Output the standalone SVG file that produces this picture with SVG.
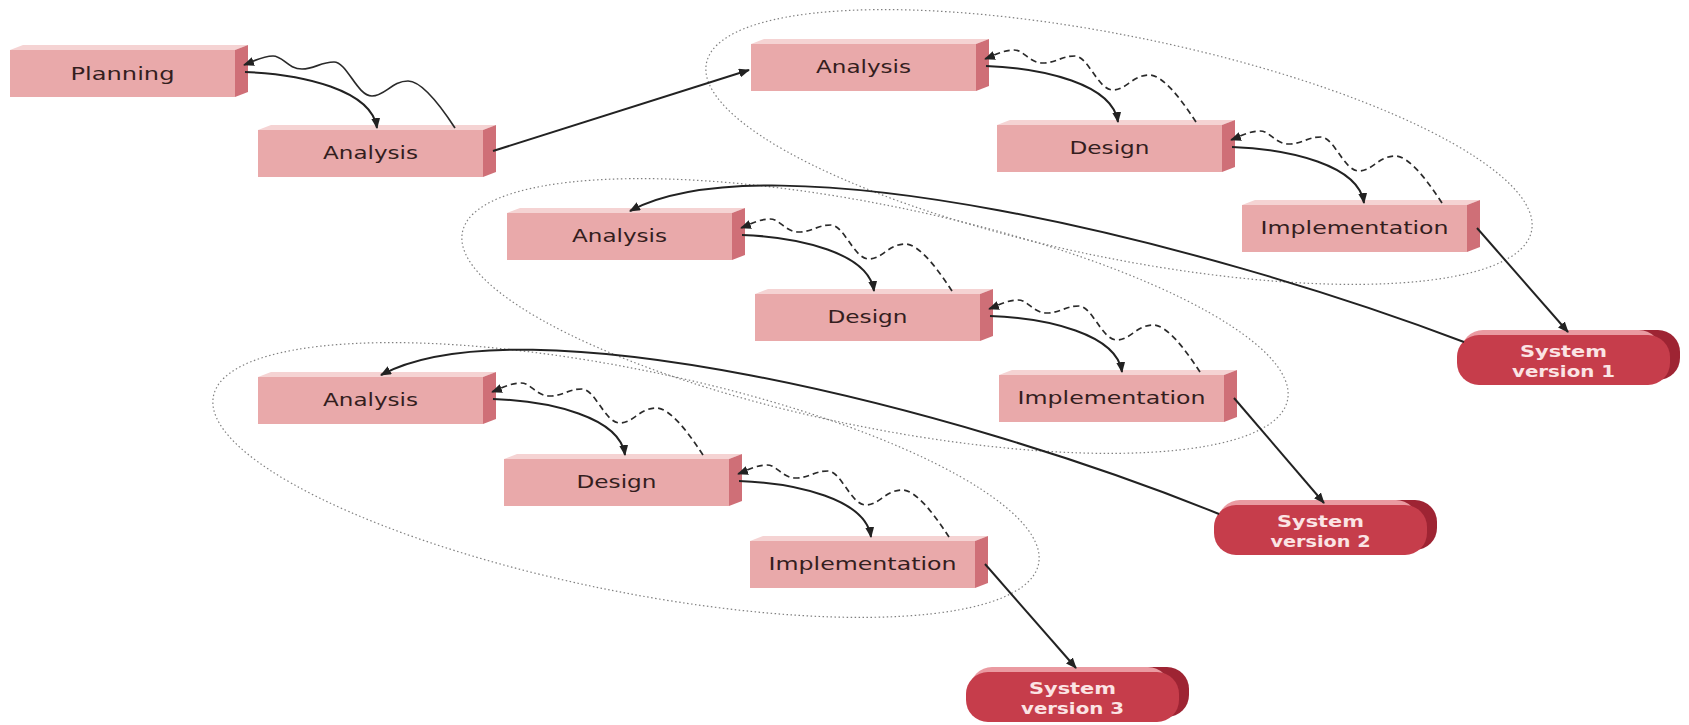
<svg xmlns="http://www.w3.org/2000/svg" width="1689" height="725" viewBox="0 0 1689 725">
<defs>
<style>
.front{fill:#e9a9aa}
.top{fill:#f5d3d3}
.side{fill:#cf6f77}
.lbl{font-family:"DejaVu Sans",sans-serif;font-size:17px;fill:#341e1e;text-anchor:middle}
.svf{fill:#c63d4b}
.svb{fill:#9e2433}
.svt{fill:#ea9aa1}
.svl{font-family:"DejaVu Sans",sans-serif;font-weight:bold;font-size:16px;fill:#fbe4e4;text-anchor:middle}
.conn{fill:none;stroke:#222;stroke-width:2;marker-end:url(#ah)}
.wave{fill:none;stroke:#2a2a2a;stroke-width:1.7;marker-end:url(#ah)}
.dash{stroke-dasharray:6 4}
.ell{fill:none;stroke:#808080;stroke-width:1.2;stroke-dasharray:1.5 2.5}
</style>
<marker id="ah" markerUnits="userSpaceOnUse" markerWidth="11" markerHeight="9" refX="10" refY="4.5" orient="auto" viewBox="0 0 11 9">
<path d="M0,0 L11,4.5 L0,9 z" fill="#222"/>
</marker>
<path id="wv" d="M445,78 C430,55 412,31 398,31 C382,31 375,46 362,46 C347,46 337,12 324,12 C310,12 305,19 292,19 C278,19 273,6 263,6 C252,6 242,12 234,15"/>
</defs>
<rect width="1689" height="725" fill="#ffffff"/>

<g id="iterations">
<ellipse class="ell" cx="0" cy="0" rx="421" ry="111" transform="translate(1119,147) rotate(11.5)"/>
<ellipse class="ell" cx="0" cy="0" rx="421" ry="111" transform="translate(875,316) rotate(11.5)"/>
<ellipse class="ell" cx="0" cy="0" rx="421" ry="111" transform="translate(626,480) rotate(11.5)"/>
</g>

<g id="planning" transform="translate(10,50)">
<polygon class="top" points="0,0 13,-5 238,-5 225,0"/><polygon class="side" points="225,0 238,-5 238,42 225,47"/><rect class="front" width="225" height="47"/>
<text class="lbl" x="112.5" y="30" textLength="104" lengthAdjust="spacingAndGlyphs">Planning</text>
</g>
<g id="analysis0" transform="translate(258,130)">
<polygon class="top" points="0,0 13,-5 238,-5 225,0"/><polygon class="side" points="225,0 238,-5 238,42 225,47"/><rect class="front" width="225" height="47"/>
<text class="lbl" x="112.5" y="29" textLength="95" lengthAdjust="spacingAndGlyphs">Analysis</text>
</g>
<g id="analysis1" transform="translate(751,44)">
<polygon class="top" points="0,0 13,-5 238,-5 225,0"/><polygon class="side" points="225,0 238,-5 238,42 225,47"/><rect class="front" width="225" height="47"/>
<text class="lbl" x="112.5" y="29" textLength="95" lengthAdjust="spacingAndGlyphs">Analysis</text>
</g>
<g id="design1" transform="translate(997,125)">
<polygon class="top" points="0,0 13,-5 238,-5 225,0"/><polygon class="side" points="225,0 238,-5 238,42 225,47"/><rect class="front" width="225" height="47"/>
<text class="lbl" x="112.5" y="29" textLength="80" lengthAdjust="spacingAndGlyphs">Design</text>
</g>
<g id="implementation1" transform="translate(1242,205)">
<polygon class="top" points="0,0 13,-5 238,-5 225,0"/><polygon class="side" points="225,0 238,-5 238,42 225,47"/><rect class="front" width="225" height="47"/>
<text class="lbl" x="112.5" y="29" textLength="188" lengthAdjust="spacingAndGlyphs">Implementation</text>
</g>
<g id="analysis2" transform="translate(507,213)">
<polygon class="top" points="0,0 13,-5 238,-5 225,0"/><polygon class="side" points="225,0 238,-5 238,42 225,47"/><rect class="front" width="225" height="47"/>
<text class="lbl" x="112.5" y="29" textLength="95" lengthAdjust="spacingAndGlyphs">Analysis</text>
</g>
<g id="design2" transform="translate(755,294)">
<polygon class="top" points="0,0 13,-5 238,-5 225,0"/><polygon class="side" points="225,0 238,-5 238,42 225,47"/><rect class="front" width="225" height="47"/>
<text class="lbl" x="112.5" y="29" textLength="80" lengthAdjust="spacingAndGlyphs">Design</text>
</g>
<g id="implementation2" transform="translate(999,375)">
<polygon class="top" points="0,0 13,-5 238,-5 225,0"/><polygon class="side" points="225,0 238,-5 238,42 225,47"/><rect class="front" width="225" height="47"/>
<text class="lbl" x="112.5" y="29" textLength="188" lengthAdjust="spacingAndGlyphs">Implementation</text>
</g>
<g id="analysis3" transform="translate(258,377)">
<polygon class="top" points="0,0 13,-5 238,-5 225,0"/><polygon class="side" points="225,0 238,-5 238,42 225,47"/><rect class="front" width="225" height="47"/>
<text class="lbl" x="112.5" y="29" textLength="95" lengthAdjust="spacingAndGlyphs">Analysis</text>
</g>
<g id="design3" transform="translate(504,459)">
<polygon class="top" points="0,0 13,-5 238,-5 225,0"/><polygon class="side" points="225,0 238,-5 238,42 225,47"/><rect class="front" width="225" height="47"/>
<text class="lbl" x="112.5" y="29" textLength="80" lengthAdjust="spacingAndGlyphs">Design</text>
</g>
<g id="implementation3" transform="translate(750,541)">
<polygon class="top" points="0,0 13,-5 238,-5 225,0"/><polygon class="side" points="225,0 238,-5 238,42 225,47"/><rect class="front" width="225" height="47"/>
<text class="lbl" x="112.5" y="29" textLength="188" lengthAdjust="spacingAndGlyphs">Implementation</text>
</g>

<g id="system1" transform="translate(1457,335)">
<rect class="svb" x="10" y="-5" width="213" height="50" rx="22"/><rect class="svt" x="4" y="-5" width="200" height="50" rx="22"/><rect class="svf" width="213" height="50" rx="22"/>
<text class="svl" x="106.5" y="22" textLength="87" lengthAdjust="spacingAndGlyphs">System</text>
<text class="svl" x="106.5" y="42" textLength="103" lengthAdjust="spacingAndGlyphs">version 1</text>
</g>
<g id="system2" transform="translate(1214,505)">
<rect class="svb" x="10" y="-5" width="213" height="50" rx="22"/><rect class="svt" x="4" y="-5" width="200" height="50" rx="22"/><rect class="svf" width="213" height="50" rx="22"/>
<text class="svl" x="106.5" y="22" textLength="87" lengthAdjust="spacingAndGlyphs">System</text>
<text class="svl" x="106.5" y="42" textLength="100" lengthAdjust="spacingAndGlyphs">version 2</text>
</g>
<g id="system3" transform="translate(966,672)">
<rect class="svb" x="10" y="-5" width="213" height="50" rx="22"/><rect class="svt" x="4" y="-5" width="200" height="50" rx="22"/><rect class="svf" width="213" height="50" rx="22"/>
<text class="svl" x="106.5" y="22" textLength="87" lengthAdjust="spacingAndGlyphs">System</text>
<text class="svl" x="106.5" y="42" textLength="103" lengthAdjust="spacingAndGlyphs">version 3</text>
</g>

<g id="connectors">
<path class="conn" transform="translate(10,50)" d="M235,22 C292,24 362,40 367,78"/>
<use class="wave" href="#wv" transform="translate(10,50)"/>
<path class="conn" d="M493,151 L749,70"/>

<path class="conn" transform="translate(751,44)" d="M235,22 C292,24 362,40 367,78"/>
<use class="wave dash" href="#wv" transform="translate(751,44)"/>
<path class="conn" transform="translate(997,125)" d="M235,22 C292,24 362,40 367,78"/>
<use class="wave dash" href="#wv" transform="translate(997,125)"/>
<path class="conn" d="M1477,228 L1568,332"/>
<path class="conn" d="M1464,342 C1199,241 769,136 630,211"/>

<path class="conn" transform="translate(507,213)" d="M235,22 C292,24 362,40 367,78"/>
<use class="wave dash" href="#wv" transform="translate(507,213)"/>
<path class="conn" transform="translate(755,294)" d="M235,22 C292,24 362,40 367,78"/>
<use class="wave dash" href="#wv" transform="translate(755,294)"/>
<path class="conn" d="M1234,398 L1324,503"/>
<path class="conn" d="M1219,514 C950,405 520,300 381,375"/>

<path class="conn" transform="translate(258,377)" d="M235,22 C292,24 362,40 367,78"/>
<use class="wave dash" href="#wv" transform="translate(258,377)"/>
<path class="conn" transform="translate(504,459)" d="M235,22 C292,24 362,40 367,78"/>
<use class="wave dash" href="#wv" transform="translate(504,459)"/>
<path class="conn" d="M985,564 L1076,668"/>
</g>
</svg>
